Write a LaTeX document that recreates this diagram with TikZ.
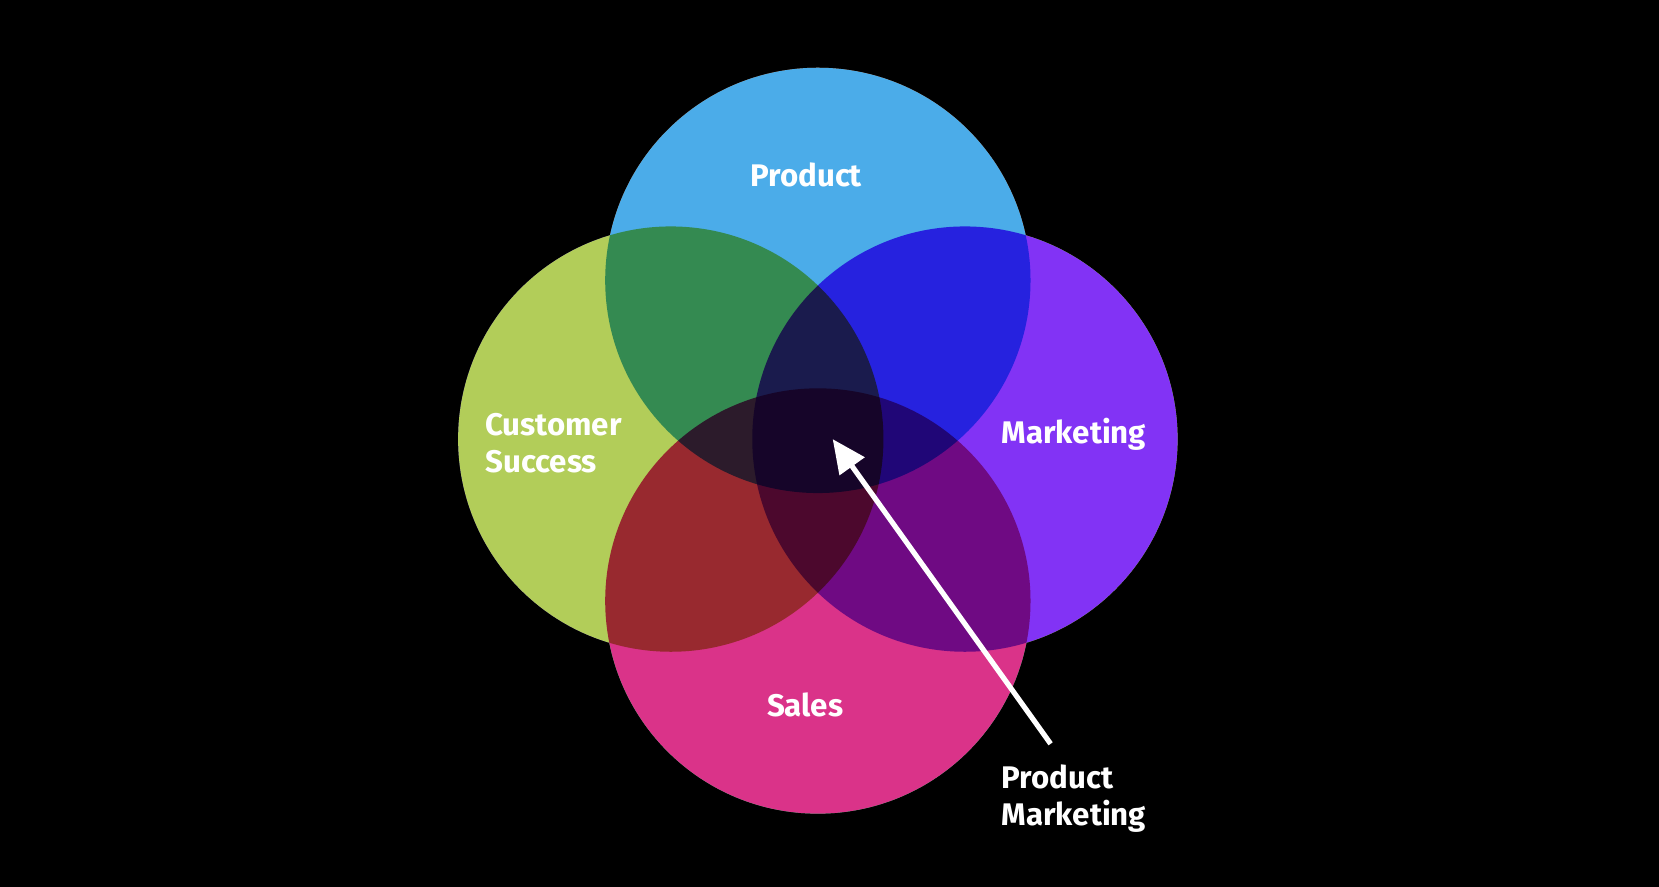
\documentclass[tikz,border=0pt]{standalone}
\usepackage{fontspec}
\setmainfont{Fira Sans}
\usetikzlibrary{positioning, arrows.meta}
\definecolor{prodblue}{HTML}{4BACE9}
\definecolor{mktpurple}{HTML}{8233F5}
\definecolor{csgreen}{HTML}{B2CD59}
\definecolor{salespink}{HTML}{DA3389}
\tikzset{
	label/.style={text=white, font=\fontsize{8.4}{10}\selectfont\bfseries, align=left, inner sep=0pt},
	disc/.style={circle, minimum size=4.02cm, inner sep=0pt}
}

\begin{document}
\begin{tikzpicture}[x=0.01cm, y=-0.01cm]
	\fill[black] (0,0) rectangle (1568,838);
	\useasboundingbox (0,0) rectangle (1568,838);

	% circles
	\coordinate (P) at (773,265);
	\coordinate (S) at (773,568);
	\coordinate (C) at (634,415);
	\coordinate (M) at (912,415);
	\foreach \c in {P,S,C,M}
		\fill[white] (\c) circle (201);
	\begin{scope}[blend mode=multiply]
		\fill[prodblue] (P) circle (201);
		\fill[mktpurple] (M) circle (201);
		\fill[csgreen] (C) circle (201);
		\fill[salespink] (S) circle (201);
	\end{scope}

	% labels
	\node[label] (prod) at (762,165) {Product};
	\node[label] (mkt) at (1015,410) {Marketing};
	\node[label, anchor=west] (cs) at (458,419) {Customer\\Success};
	\node[label] (sales) at (761,666) {Sales};
	\node[label, anchor=west] (pm) at (946,755) {Product\\Marketing};

	% arrow
	\coordinate (tail) at (993,703);
	\coordinate (tip) at (787,415);
	\draw[white, line width=1.4pt, -{Triangle[length=9pt, width=8pt]}] (tail) -- (tip);
\end{tikzpicture}
\end{document}
